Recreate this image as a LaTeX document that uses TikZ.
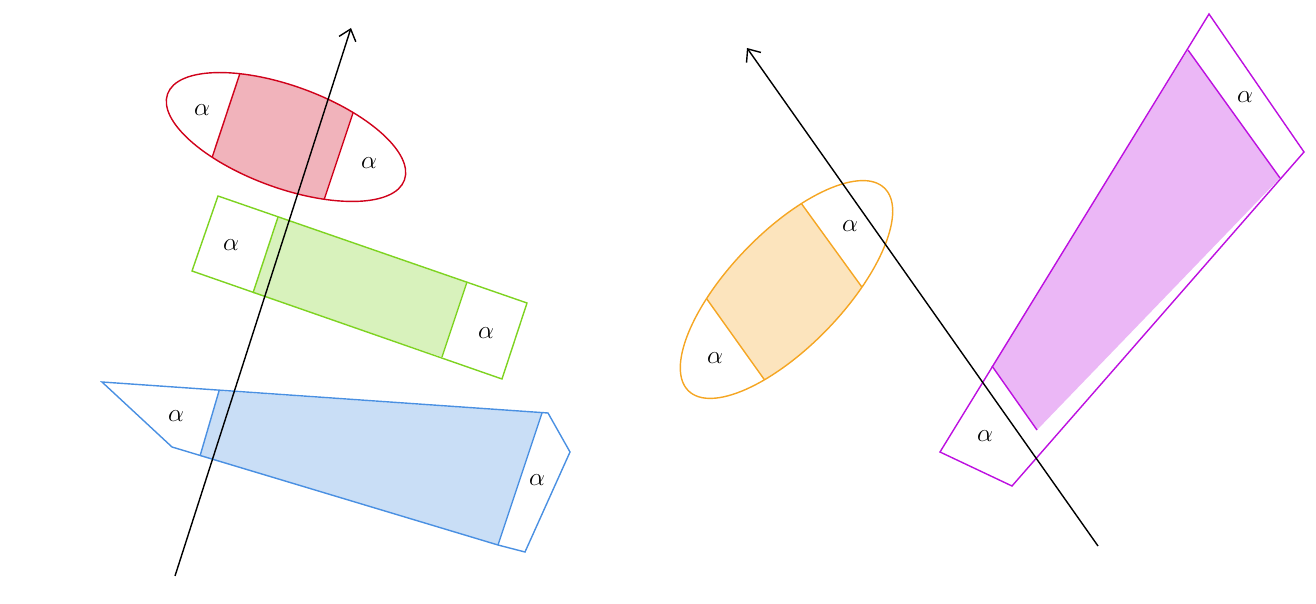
\documentclass[tikz,border=0pt]{standalone}
\usetikzlibrary{arrows.meta}
\definecolor{cred}{HTML}{D0021B}
\definecolor{cgreen}{HTML}{7ED321}
\definecolor{cblue}{HTML}{4A90E2}
\definecolor{corange}{HTML}{F5A623}
\definecolor{cpurple}{HTML}{BD10E0}
\tikzset{axis/.style={thick,-{Straight Barb[length=6pt,width=10pt]}},
 lbl/.style={font=\Large}}
\begin{document}
\begin{tikzpicture}[x=0.02cm,y=-0.02cm]
\useasboundingbox (0,0) rectangle (1316,604);
% red ellipse
\begin{scope}
\clip (250,43)--(202,188)--(314,230)--(364,80)--cycle;
\fill[cred!30] (286,137) ellipse[x radius=126,y radius=51,rotate=-20];
\end{scope}
\begin{scope}
\clip (286,137) ellipse[x radius=126,y radius=51,rotate=-20];
\draw[cred,thick] (250,43)--(202,188) (364,80)--(314,230);
\end{scope}
\draw[cred,thick] (286,137) ellipse[x radius=126,y radius=51,rotate=-20];
\node[lbl] (r1) at (202,110) {$\alpha$};
\node[lbl] (r2) at (369,163) {$\alpha$};
% green
\fill[cgreen!30] (278,217)--(467,282)--(442,357)--(253,293)--cycle;
\draw[cgreen,thick] (218,196)--(527,303)--(502,379)--(192,271)--cycle;
\draw[cgreen,thick] (278,217)--(253,293) (467,282)--(442,357);
\node[lbl] (g1) at (231,245) {$\alpha$};
\node[lbl] (g2) at (486,333) {$\alpha$};
% blue
\fill[cblue!30] (219,391)--(542,413)--(498,545)--(200,456)--cycle;
\draw[cblue,thick] (102,382)--(548,413)--(570,452)--(525,552)--(498,545)--(172,447)--cycle;
\draw[cblue,thick] (219,391)--(200,456) (542,413)--(498,545);
\node[lbl] (b1) at (176,416) {$\alpha$};
\node[lbl] (b2) at (537,480) {$\alpha$};
% left axis
\coordinate (la) at (175,576);
\coordinate (lb) at (351,28);
\draw[axis] (la)--(lb);
% orange ellipse
\begin{scope}
\clip (780,174)--(885,319)--(786,410)--(684,267)--cycle;
\fill[corange!30] (786.5,289.5) ellipse[x radius=141,y radius=57,rotate=46];
\end{scope}
\begin{scope}
\clip (786.5,289.5) ellipse[x radius=141,y radius=57,rotate=46];
\draw[corange,thick] (780,174)--(885,319) (684,267)--(786,410);
\end{scope}
\draw[corange,thick] (786.5,289.5) ellipse[x radius=141,y radius=57,rotate=46];
\node[lbl] (o1) at (850,226) {$\alpha$};
\node[lbl] (o2) at (715,358) {$\alpha$};
% purple
\fill[cpurple!30] (1188,50)--(1280,178)--(1037,430)--(992,366)--cycle;
\draw[cpurple,thick] (1209,14)--(1304,152)--(1012,486)--(940,452)--cycle;
\draw[cpurple,thick] (1188,50)--(1280,178) (992,366)--(1037,430);
\node[lbl] (p1) at (1245,97) {$\alpha$};
\node[lbl] (p2) at (985,436) {$\alpha$};
% right axis
\coordinate (ra) at (1098,546);
\coordinate (rb) at (747,48);
\draw[axis] (ra)--(rb);
\end{tikzpicture}
\end{document}
